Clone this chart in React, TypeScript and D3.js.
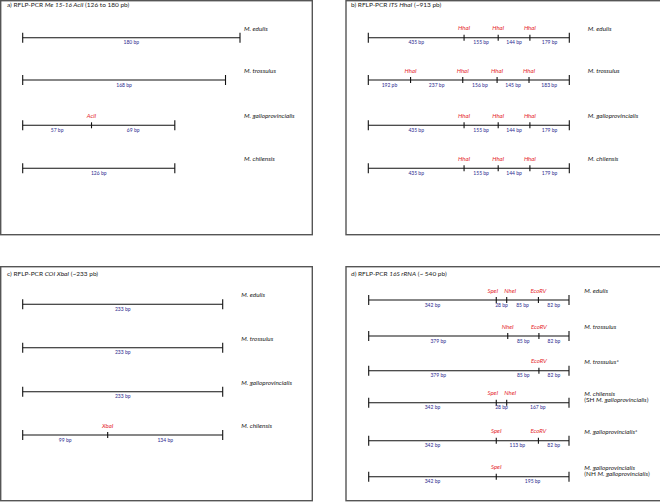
import React from "react";
import * as d3 from "d3";

// ---------- DATA ----------
const speciesA = ["M. edulis", "M. trossulus", "M. galloprovincialis", "M. chilensis"];
const fragmentsA = [[180], [168], [57, 69], [126]];
const enzymesA = [[], [], ["AciI"], []];

const speciesB = ["M. edulis", "M. trossulus", "M. galloprovincialis", "M.  chilensis"];
const fragmentsB = [
  [435, 155, 144, 179],
  [192, 237, 156, 145, 183],
  [435, 155, 144, 179],
  [435, 155, 144, 179],
];
const unitsB = [
  ["bp", "bp", "bp", "bp"],
  ["pb", "bp", "bp", "bp", "bp"],
  ["bp", "bp", "bp", "bp"],
  ["bp", "bp", "bp", "bp"],
];
const enzymesB = [
  ["HhaI", "HhaI", "HhaI"],
  ["HhaI", "HhaI", "HhaI", "HhaI"],
  ["HhaI", "HhaI", "HhaI"],
  ["HhaI", "HhaI", "HhaI"],
];

const speciesC = ["M. edulis", "M. trossulus", "M. galloprovincialis", "M. chilensis"];
const fragmentsC = [[233], [233], [233], [99, 134]];
const enzymesC = [[], [], [], ["XbaI"]];

const speciesD = [
  ["M. edulis"],
  ["M. trossulus"],
  ["M. trossulus*"],
  ["M. chilensis", "(SH |M. galloprovincialis|)"],
  ["M. galloprovincialis*"],
  ["M. galloprovincialis", "(NH |M. galloprovincialis|)"],
];
const fragmentsD = [
  [342, 28, 85, 82],
  [379, 85, 82],
  [379, 85, 82],
  [342, 28, 167],
  [342, 113, 82],
  [342, 195],
];
// "" = hidden boundary (no tick, no enzyme label)
const enzymesD = [
  ["SpeI", "NheI", "EcoRV"],
  ["NheI", "EcoRV"],
  ["", "EcoRV"],
  ["SpeI", "NheI"],
  ["SpeI", "EcoRV"],
  ["SpeI"],
];

const titles = [
  ["a) RFLP-PCR ", "Me 15-16 AciI", " (126 to 180 pb)"],
  ["b) RFLP-PCR ", "ITS HhaI", " (~913 pb)"],
  ["c) RFLP-PCR ", "COI XbaI", " (~233 pb)"],
  ["d) RFLP-PCR ", "16S rRNA", " (~ 540 pb)"],
];

// ---------- STYLE ----------
const FONT = "Lato, 'Open Sans', sans-serif";
const RED = "#e5262d";
const BLUE = "#2c2a8e";
const BORDER = "#555";

type Row = {
  frags: number[];
  units?: string[];
  enz: string[];
};

function Fragment({
  row,
  y,
  x,
}: {
  row: Row;
  y: number;
  x: d3.ScaleLinear<number, number>;
}) {
  const total = d3.sum(row.frags);
  const cum = Array.from(d3.cumsum(row.frags));
  const starts = [0, ...cum.slice(0, -1)];
  const cuts = cum.slice(0, -1);
  const cutX = cuts.map((c) => x(c));
  // nudge enzyme labels apart when cut sites are close
  const labelX = cutX.map((cx, i) => {
    let s = cx;
    if (i + 1 < cutX.length && row.enz[i + 1] && cutX[i + 1] - cx < 18) s -= 3.5;
    if (i > 0 && row.enz[i - 1] && cx - cutX[i - 1] < 18) s += 3.5;
    return s;
  });
  return (
    <g>
      <line x1={x(0)} x2={x(total)} y1={y} y2={y} stroke="#111" strokeWidth={1.1} />
      <line x1={x(0)} x2={x(0)} y1={y - 5} y2={y + 5} stroke="#111" strokeWidth={1.1} />
      <line x1={x(total)} x2={x(total)} y1={y - 5} y2={y + 5} stroke="#111" strokeWidth={1.1} />
      {cuts.map((c, i) =>
        row.enz[i] ? (
          <g key={"c" + i}>
            <line x1={cutX[i]} x2={cutX[i]} y1={y - 3} y2={y + 3} stroke="#111" strokeWidth={1.1} />
            <text
              x={labelX[i]}
              y={y - 9.4}
              dy="0.35em"
              textAnchor="middle"
              fontSize={6}
              fontStyle="italic"
              fill={RED}
            >
              {row.enz[i]}
            </text>
          </g>
        ) : null
      )}
      {row.frags.map((f, i) => (
        <text
          key={"f" + i}
          x={(x(starts[i]) + x(starts[i] + f)) / 2}
          y={y + 5}
          dy="0.35em"
          textAnchor="middle"
          fontSize={5}
          fill={BLUE}
        >
          {f} {row.units ? row.units[i] : "bp"}
        </text>
      ))}
    </g>
  );
}

function Species({ lines, x, y }: { lines: string[]; x: number; y: number }) {
  return (
    <text x={x} y={y} fontSize={6.4} fill="#222">
      {lines.map((ln, li) => (
        <tspan key={li} x={x} dy={li === 0 ? "0.35em" : 6.6}>
          {ln.includes("|")
            ? ln.split("|").map((p, pi) => (
                <tspan key={pi} fontStyle={pi % 2 === 1 ? "italic" : "normal"}>
                  {p}
                </tspan>
              ))
            : <tspan fontStyle="italic">{ln}</tspan>}
        </tspan>
      ))}
    </text>
  );
}

function Title({ parts, x, y }: { parts: string[]; x: number; y: number }) {
  return (
    <text x={x} y={y} dy="0.35em" fontSize={6.5} fill="#222">
      <tspan>{parts[0]}</tspan>
      <tspan fontStyle="italic">{parts[1]}</tspan>
      <tspan>{parts[2]}</tspan>
    </text>
  );
}

export default function App() {
  // panel a
  const xA = d3.scaleLinear().domain([0, d3.max(fragmentsA, (f) => d3.sum(f))!]).range([22.7, 240]);
  const rowYA = [37.7, 80, 125.3, 168.3];
  // panel c
  const xC = d3.scaleLinear().domain([0, d3.max(fragmentsC, (f) => d3.sum(f))!]).range([22.7, 222.7]);
  const rowYC = [304.3, 347.7, 391.7, 435];
  // panel b: each row normalised to full length
  const rowYB = rowYA;
  // panel d
  const rowYD = [300, 336, 370.7, 402.7, 440.7, 476.7];

  return (
    <svg
      width={660}
      height={502}
      style={{ position: "absolute", left: 0, top: 0, fontFamily: FONT, background: "#fff" }}
    >
      <rect x={0} y={0} width={660} height={502} fill="#fff" />
      {/* borders */}
      <rect x={0.7} y={0.7} width={311.6} height={234} fill="none" stroke={BORDER} strokeWidth={1.4} />
      <rect x={346} y={0.7} width={316} height={234} fill="none" stroke={BORDER} strokeWidth={1.4} />
      <rect x={0.7} y={266.7} width={311.6} height={234} fill="none" stroke={BORDER} strokeWidth={1.4} />
      <rect x={346} y={266.7} width={316} height={234} fill="none" stroke={BORDER} strokeWidth={1.4} />

      <Title parts={titles[0]} x={7} y={5.2} />
      <Title parts={titles[1]} x={351} y={5.2} />
      <Title parts={titles[2]} x={7} y={274} />
      <Title parts={titles[3]} x={351} y={274} />

      {/* panel a */}
      {fragmentsA.map((fr, i) => (
        <g key={"a" + i}>
          <Fragment row={{ frags: fr, enz: enzymesA[i] }} y={rowYA[i]} x={xA} />
          <Species lines={[speciesA[i]]} x={244} y={rowYA[i] - 9.4} />
        </g>
      ))}

      {/* panel b */}
      {fragmentsB.map((fr, i) => {
        const xs = d3.scaleLinear().domain([0, d3.sum(fr)]).range([368.3, 569.3]);
        return (
          <g key={"b" + i}>
            <Fragment row={{ frags: fr, enz: enzymesB[i], units: unitsB[i] }} y={rowYB[i]} x={xs} />
            <Species lines={[speciesB[i]]} x={587.7} y={rowYB[i] - 9.4} />
          </g>
        );
      })}

      {/* panel c */}
      {fragmentsC.map((fr, i) => (
        <g key={"c" + i}>
          <Fragment row={{ frags: fr, enz: enzymesC[i] }} y={rowYC[i]} x={xC} />
          <Species lines={[speciesC[i]]} x={241.3} y={rowYC[i] - 9.4} />
        </g>
      ))}

      {/* panel d */}
      {fragmentsD.map((fr, i) => {
        const xs = d3.scaleLinear().domain([0, d3.sum(fr)]).range([368.7, 569]);
        return (
          <g key={"d" + i}>
            <Fragment row={{ frags: fr, enz: enzymesD[i] }} y={rowYD[i]} x={xs} />
            <Species lines={speciesD[i]} x={584.3} y={rowYD[i] - 9.4} />
          </g>
        );
      })}
    </svg>
  );
}
